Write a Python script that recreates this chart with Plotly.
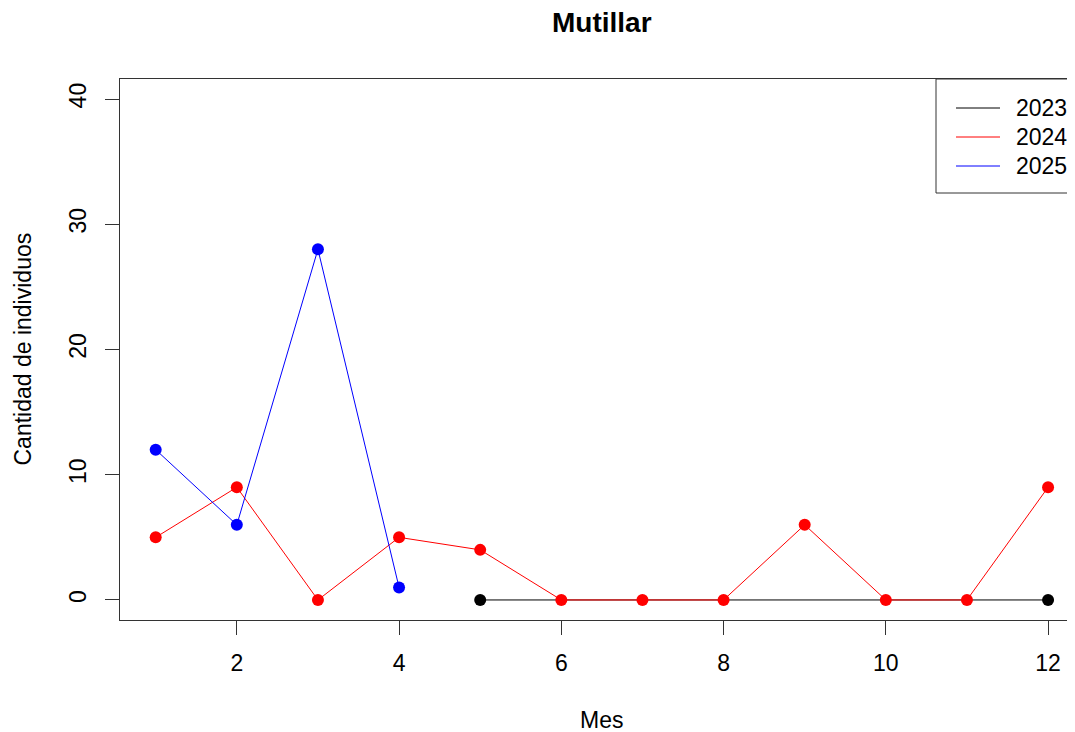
import plotly.graph_objects as go

months_2023 = [5, 12]
values_2023 = [0, 0]
months_2024 = [1, 2, 3, 4, 5, 6, 7, 8, 9, 10, 11, 12]
values_2024 = [5, 9, 0, 5, 4, 0, 0, 0, 6, 0, 0, 9]
months_2025 = [1, 2, 3, 4]
values_2025 = [12, 6, 28, 1]
series_names = ["2023", "2024", "2025"]
series_colors = ["black", "red", "blue"]
x_ticks = [2, 4, 6, 8, 10, 12]
y_ticks = [0, 10, 20, 30, 40]

FONT = "Liberation Sans, Arial, sans-serif"
FS = 23

W, H = 1067, 724
ML, MR, MT, MB = 112, 0, 71, 112
PW, PH = W - ML - MR, H - MT - MB


def px(x):  # figure pixel x -> paper
    return (x - ML) / PW


def py(y):  # figure pixel y -> paper
    return (H - MB - y) / PH


fig = go.Figure()
data = [(months_2023, values_2023), (months_2024, values_2024), (months_2025, values_2025)]
for (xs, ys), name, col in zip(data, series_names, series_colors):
    fig.add_trace(go.Scatter(x=xs, y=ys, mode="lines+markers", name=name,
                             line=dict(color=col, width=1),
                             marker=dict(color=col, size=12),
                             showlegend=False))

axis_common = dict(showgrid=False, zeroline=False, showline=True, linecolor="#333",
                   linewidth=1, ticks="outside", ticklen=14, tickcolor="#333",
                   tickfont=dict(family=FONT, size=FS, color="black"))

shapes = [dict(type="rect", xref="paper", yref="paper", x0=px(928), x1=px(1085),
               y0=py(185), y1=1, line=dict(color="#333", width=1), fillcolor="white",
               layer="above")]
annotations = [
    dict(text="<b>Mutillar</b>", x=6.5, xref="x", y=1, yref="paper", yshift=57,
         yanchor="middle", showarrow=False, font=dict(family=FONT, size=28, color="black")),
    dict(text="Mes", x=6.5, xref="x", y=0, yref="paper", yshift=-100,
         yanchor="middle", showarrow=False, font=dict(family=FONT, size=FS, color="black")),
    dict(text="Cantidad de individuos", x=0, xref="paper", xshift=-98, y=0.5, yref="paper",
         textangle=-90, xanchor="center", yanchor="middle", showarrow=False,
         font=dict(family=FONT, size=FS, color="black")),
]
for i, (name, col) in enumerate(zip(series_names, series_colors)):
    yrow = 100 + 29 * i
    shapes.append(dict(type="line", xref="paper", yref="paper", x0=px(948), x1=px(992),
                       y0=py(yrow), y1=py(yrow), line=dict(color=col, width=1), layer="above"))
    annotations.append(dict(text=name, xref="paper", yref="paper", x=px(1006), y=py(yrow),
                            xanchor="left", yanchor="middle", showarrow=False,
                            font=dict(family=FONT, size=FS, color="black")))

fig.update_layout(
    width=W, height=H,
    paper_bgcolor="white", plot_bgcolor="white",
    margin=dict(l=ML, r=MR, t=MT, b=MB),
    font=dict(family=FONT, color="black"),
    showlegend=False,
    xaxis=dict(range=[0.56, 12.332], tickvals=x_ticks, mirror=True,
               ticklabelstandoff=8, automargin=False, **axis_common),
    yaxis=dict(range=[-1.6, 41.6], tickvals=y_ticks, tickangle=-90,
               ticklabelstandoff=10, automargin=False, **axis_common),
    shapes=shapes,
    annotations=annotations,
)

fig.write_html("out.html")
